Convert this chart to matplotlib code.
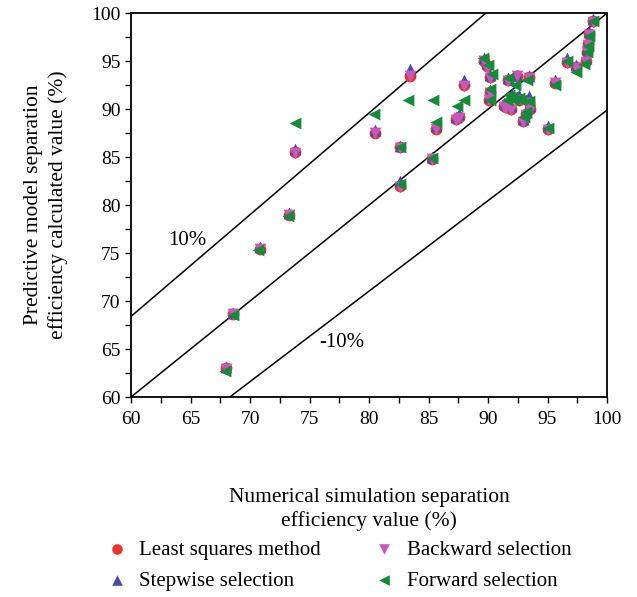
import matplotlib
matplotlib.use("Agg")
import matplotlib.pyplot as plt
import numpy as np

plt.rcParams['font.family'] = ['Liberation Serif', 'DejaVu Serif']

# least squares method
ls_x = [68.0, 68.6, 70.8, 73.3, 73.8, 80.5, 82.6, 82.6, 83.4, 85.3, 85.6, 88.0, 87.6, 87.3,
        89.7, 89.9, 90.2, 90.2, 90.1, 91.5, 91.7, 92.4, 93.4, 92.6, 93.4, 92.0, 92.9, 93.2,
        93.5, 95.6, 95.0, 96.6, 97.4, 98.2, 98.3, 98.4, 98.5, 98.8, 91.3, 91.9]
ls_y = [63.0, 68.6, 75.4, 79.0, 85.5, 87.5, 86.0, 82.0, 93.5, 84.8, 87.9, 92.5, 89.2, 89.0,
        95.0, 94.5, 93.3, 91.8, 91.0, 90.2, 93.0, 93.5, 93.3, 91.0, 90.7, 91.3, 88.8, 89.5,
        90.0, 92.7, 87.9, 94.9, 94.4, 95.0, 96.0, 96.8, 97.8, 99.2, 90.3, 90.0]

# stepwise selection
sw_x = [68.0, 68.6, 70.8, 73.3, 73.8, 80.5, 82.6, 82.6, 83.4, 85.3, 85.6, 88.0, 87.6, 87.3,
        89.7, 89.9, 90.2, 90.2, 90.1, 91.5, 91.7, 92.4, 93.4, 92.6, 93.4, 92.0, 92.9, 93.2,
        93.5, 95.6, 95.0, 96.6, 97.4, 98.2, 98.3, 98.4, 98.5, 98.8, 91.3, 91.9]
sw_y = [63.1, 68.8, 75.6, 79.2, 85.8, 87.8, 86.2, 82.5, 94.2, 85.0, 88.2, 93.0, 89.5, 89.2,
        95.3, 94.8, 93.6, 92.0, 91.3, 90.5, 93.2, 93.6, 93.5, 91.5, 91.4, 91.6, 89.0, 89.7,
        90.3, 93.0, 88.2, 95.3, 94.6, 95.3, 96.3, 97.0, 98.0, 99.4, 90.6, 90.3]

# backward selection
bw_x = [68.0, 68.6, 70.8, 73.3, 73.8, 80.5, 82.6, 82.6, 83.4, 85.3, 85.6, 88.0, 87.6, 87.3,
        89.7, 89.9, 90.2, 90.2, 90.1, 91.5, 91.7, 92.4, 93.4, 92.6, 93.4, 92.0, 92.9, 93.2,
        93.5, 95.6, 95.0, 96.6, 97.4, 98.2, 98.3, 98.4, 98.5, 98.8, 91.3, 91.9]
bw_y = [62.9, 68.6, 75.4, 79.0, 85.4, 87.5, 85.9, 81.9, 93.5, 84.8, 87.9, 92.4, 89.1, 88.9,
        95.0, 94.3, 93.2, 91.7, 90.9, 90.1, 92.9, 93.4, 93.2, 91.0, 90.6, 91.2, 88.7, 89.4,
        89.9, 92.7, 87.8, 94.8, 94.3, 94.9, 95.9, 96.7, 97.7, 99.1, 90.2, 89.9]

# forward selection
fw_x = [67.9, 68.6, 70.7, 73.2, 73.8, 80.4, 82.6, 82.6, 83.3, 85.3, 85.6, 85.4, 88.0, 87.4,
        89.6, 90.0, 90.3, 90.2, 90.2, 91.6, 91.7, 92.3, 93.3, 92.6, 93.4, 92.0, 93.0, 93.2,
        91.8, 92.2, 92.8, 95.6, 95.0, 96.6, 97.4, 98.1, 98.3, 98.4, 98.5, 98.8]
fw_y = [62.7, 68.5, 75.3, 78.9, 88.6, 89.5, 86.0, 82.2, 90.9, 84.9, 88.7, 90.9, 90.9, 90.3,
        95.3, 94.6, 93.7, 92.1, 90.9, 90.9, 93.2, 92.5, 93.0, 91.2, 90.8, 91.3, 89.2, 89.7,
        91.5, 91.0, 90.9, 92.5, 88.0, 95.0, 93.9, 94.7, 95.9, 96.6, 97.6, 99.2]

fig = plt.figure(figsize=(6.37, 5.97), dpi=100)
ax = fig.add_axes([0.2057, 0.335, 0.7473, 0.643])

# reference lines
xs = np.array([60, 100])
ax.plot(xs, xs, color='black', lw=1.1, zorder=1)
ax.plot(xs, 68.4 + (xs - 60) * 1.06, color='black', lw=1.1, zorder=1)
ax.plot(xs, 60 + (xs - 68.3) * 0.943, color='black', lw=1.1, zorder=1)

ms = 72
ax.scatter(ls_x, ls_y, s=ms, marker='o', color='#e8352b', lw=0, label='Least squares method', zorder=2)
ax.scatter(sw_x, sw_y, s=ms, marker='^', color='#4b4ba8', lw=0, label='Stepwise selection', zorder=3)
ax.scatter(bw_x, bw_y, s=ms, marker='v', color='#c858b8', lw=0, label='Backward selection', zorder=4)
ax.scatter(fw_x, fw_y, s=ms, marker='<', color='#16893a', lw=0, label='Forward selection', zorder=5)

ax.text(64.7, 76.3, '10%', fontsize=15, ha='center', va='center')
ax.text(77.7, 65.7, '-10%', fontsize=15, ha='center', va='center')

ax.set_xlim(60, 100)
ax.set_ylim(60, 100)
ax.set_xticks(np.arange(60, 101, 5))
ax.set_yticks(np.arange(60, 101, 5))
ax.set_xticks(np.arange(60, 101, 2.5), minor=True)
ax.set_yticks(np.arange(60, 101, 2.5), minor=True)
ax.tick_params(which='both', direction='out', length=4, width=1, labelsize=14)
ax.tick_params(axis='x', pad=6)
for sp in ax.spines.values():
    sp.set_linewidth(1.3)

ax.set_xlabel('Numerical simulation separation\nefficiency value (%)', fontsize=15.5, labelpad=43,
              linespacing=1.3)
ax.set_ylabel('Predictive model separation\nefficiency calculated value (%)', fontsize=15.5, labelpad=17,
              linespacing=1.3)

fig.legend(loc='center', bbox_to_anchor=(0.53, 0.053), ncol=2, frameon=False, fontsize=15,
           handletextpad=0.5, columnspacing=2.4, labelspacing=0.55, markerscale=0.9,
           handlelength=1.2)

fig.savefig('out.png', dpi=100)
